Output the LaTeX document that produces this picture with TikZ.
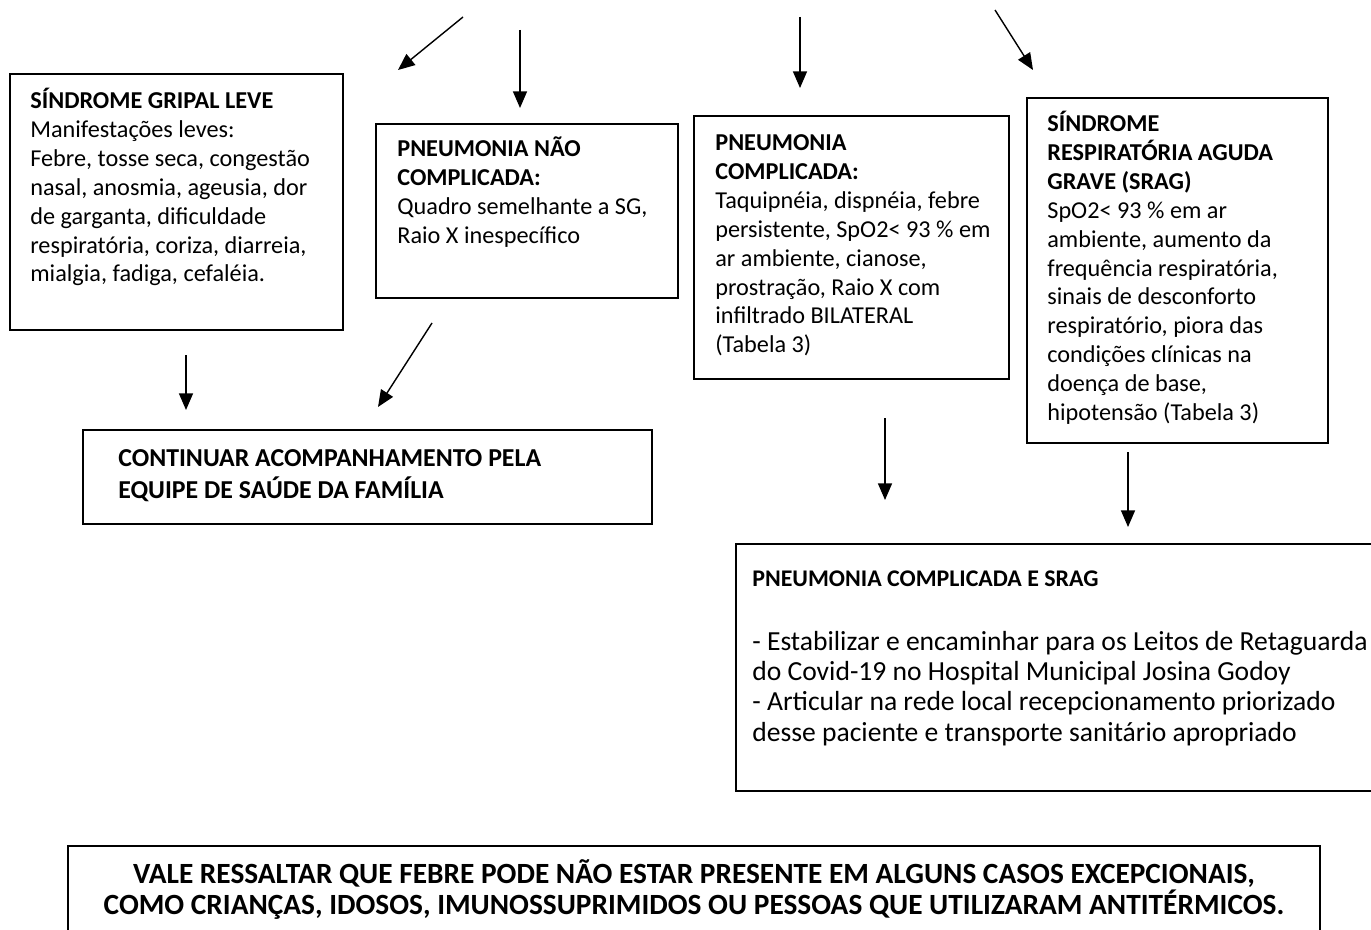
\documentclass[tikz,border=0pt]{standalone}
\usepackage{fontspec}
\setmainfont{Carlito}
\usetikzlibrary{arrows.meta}

\def\px{0.02cm}
\def\smallFont{\fontsize{13.8}{16.4}\selectfont}
\def\bigFont{\fontsize{15.7}{17.2}\selectfont}
\def\capsFont{\fontsize{14.7}{18.3}\selectfont\bfseries}
\def\noteFont{\fontsize{16.7}{17.8}\selectfont\bfseries}
\def\firstLine{\rule{0pt}{0.85em}}

\tikzset{
  frame/.style = {draw, line width = 1.1pt, anchor = north west, inner sep = 0pt},
  txt/.style = {anchor = north west, inner sep = 0pt, align = left, font = \smallFont},
  arr/.style = {line width = 0.8pt, -{Triangle[length = 9.5pt, width = 8pt]}},
}

\begin{document}
\begin{tikzpicture}[x = \px, y = -\px]
  \clip (0,0) rectangle (1371,929);
  %% boxes
  \node [frame, minimum width = 333*\px, minimum height = 256*\px] (gripal) at (9,73) {};
  \node [frame, minimum width = 302*\px, minimum height = 174*\px] (pneuSimples) at (375,123) {};
  \node [frame, minimum width = 315*\px, minimum height = 263*\px] (pneuComplic) at (693,115) {};
  \node [frame, minimum width = 301*\px, minimum height = 345*\px] (srag) at (1026,97) {};
  \node [frame, minimum width = 569*\px, minimum height = 94*\px] (acompanhar) at (82,429) {};
  \node [frame, minimum width = 700*\px, minimum height = 247*\px] (encaminhar) at (735,543) {};
  \node [frame, minimum width = 1252*\px, minimum height = 150*\px] (nota) at (67,845) {};
  %% texts
  \node [txt] (gripalTxt) at ([shift = {(21,15)}]gripal.north west)
  {\firstLine\textbf{SÍNDROME GRIPAL LEVE}\\
    Manifestações leves:\\
    Febre, tosse seca, congestão\\
    nasal, anosmia, ageusia, dor\\
    de garganta, dificuldade\\
    respiratória, coriza, diarreia,\\
    mialgia, fadiga, cefaléia.};
  \node [txt] (pneuSimplesTxt) at ([shift = {(22,13)}]pneuSimples.north west)
  {\firstLine\textbf{PNEUMONIA NÃO}\\
    \textbf{COMPLICADA:}\\
    Quadro semelhante a SG,\\
    Raio X inespecífico};
  \node [txt] (pneuComplicTxt) at ([shift = {(22,15)}]pneuComplic.north west)
  {\firstLine\textbf{PNEUMONIA}\\
    \textbf{COMPLICADA:}\\
    Taquipnéia, dispnéia, febre\\
    persistente, SpO2< 93 \% em\\
    ar ambiente, cianose,\\
    prostração, Raio X com\\
    infiltrado BILATERAL\\
    (Tabela 3)};
  \node [txt] (sragTxt) at ([shift = {(21,14)}]srag.north west)
  {\firstLine\textbf{SÍNDROME}\\
    \textbf{RESPIRATÓRIA AGUDA}\\
    \textbf{GRAVE (SRAG)}\\
    SpO2< 93 \% em ar\\
    ambiente, aumento da\\
    frequência respiratória,\\
    sinais de desconforto\\
    respiratório, piora das\\
    condições clínicas na\\
    doença de base,\\
    hipotensão (Tabela 3)};
  \node [txt, font = \capsFont] (acompanharTxt) at ([shift = {(36,15)}]acompanhar.north west)
  {\firstLine CONTINUAR ACOMPANHAMENTO PELA\\
    EQUIPE DE SAÚDE DA FAMÍLIA};
  \node [txt, font = \bigFont] (encaminharTxt) at ([shift = {(17,20)}]encaminhar.north west)
  {\firstLine{\fontsize{13.6}{17.2}\selectfont\bfseries PNEUMONIA COMPLICADA E SRAG}\\[19pt]
    - Estabilizar e encaminhar para os Leitos de Retaguarda\\
    do Covid-19 no Hospital Municipal Josina Godoy\\
    - Articular na rede local recepcionamento priorizado\\
    desse paciente e transporte sanitário apropriado};
  \node [txt, font = \noteFont, align = center, anchor = north] (notaTxt) at ([shift = {(0,13)}]nota.north)
  {\firstLine VALE RESSALTAR QUE FEBRE PODE NÃO ESTAR PRESENTE EM ALGUNS CASOS EXCEPCIONAIS,\\
    COMO CRIANÇAS, IDOSOS, IMUNOSSUPRIMIDOS OU PESSOAS QUE UTILIZARAM ANTITÉRMICOS.};
  %% arrow ends
  \coordinate (topA) at (463,17);
  \coordinate (topB) at (520,30);
  \coordinate (topC) at (800,17);
  \coordinate (topD) at (995,10);
  \coordinate (tipA) at (398,70);
  \coordinate (tipB) at (520,108);
  \coordinate (tipC) at (800,88);
  \coordinate (tipD) at (1033,70);
  \coordinate (gripalOut) at (186,355);
  \coordinate (gripalIn) at (186,410);
  \coordinate (simplesOut) at (432,323);
  \coordinate (simplesIn) at (378,407);
  \coordinate (complicOut) at (885,418);
  \coordinate (complicIn) at (885,500);
  \coordinate (sragOut) at (1128,452);
  \coordinate (sragIn) at (1128,527);
  %% arrows
  \foreach \a/\b in {topA/tipA, topB/tipB, topC/tipC, topD/tipD,
    gripalOut/gripalIn, simplesOut/simplesIn, complicOut/complicIn, sragOut/sragIn}
  \draw [arr] (\a) -- (\b);
\end{tikzpicture}
\end{document}
